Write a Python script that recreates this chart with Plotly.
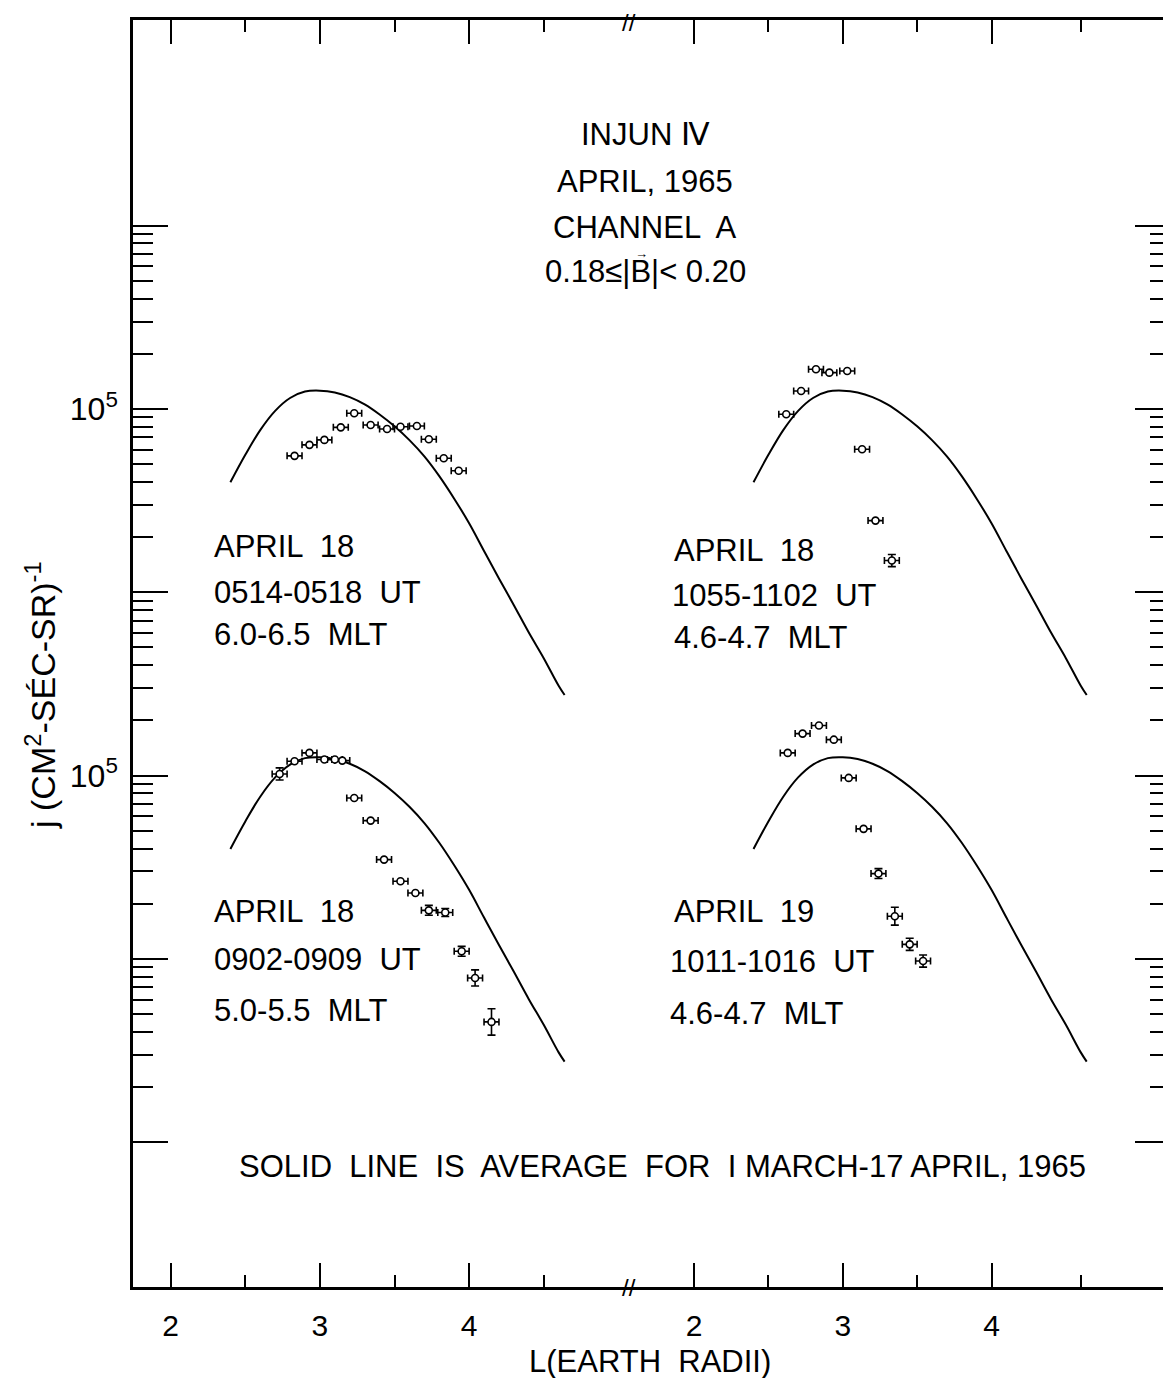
import plotly.graph_objects as go

# average curve, 1 March - 17 April 1965 (same curve drawn in every panel)
avg_L = [2.40, 2.50, 2.60, 2.70, 2.80, 2.90, 3.00, 3.10, 3.20, 3.30, 3.40, 3.50,
         3.60, 3.70, 3.80, 3.90, 4.00, 4.10, 4.20, 4.30, 4.40, 4.50, 4.60, 4.64]
avg_j = [39800, 56200, 76700, 97700, 114800, 124500, 125900, 123000, 116100, 105900, 93300, 80400,
         67600, 55100, 43000, 32400, 23800, 16800, 11900, 8500, 6030, 4370, 3090, 2750]

# April 18, 0514-0518 UT, 6.0-6.5 MLT
tl_L = [2.83, 2.93, 3.03, 3.14, 3.23, 3.34, 3.45, 3.54, 3.65, 3.73, 3.83, 3.93]
tl_j = [55500, 63700, 67800, 79400, 94800, 81800, 77800, 80000, 80700, 68400, 53800, 46000]
tl_dlog = [None] * 12

# April 18, 1055-1102 UT, 4.6-4.7 MLT
tr_L = [2.62, 2.72, 2.82, 2.91, 3.03, 3.13, 3.22, 3.33]
tr_j = [93600, 125400, 164800, 157800, 161100, 60300, 24600, 14900]
tr_dlog = [None, None, None, None, None, None, None, 0.033]

# April 18, 0902-0909 UT, 5.0-5.5 MLT
bl_L = [2.73, 2.83, 2.93, 3.03, 3.10, 3.15, 3.23, 3.34, 3.43, 3.54, 3.64, 3.73, 3.84, 3.95, 4.04, 4.15]
bl_j = [102100, 119700, 133000, 122300, 122300, 120700, 75500, 56800, 34800, 26500, 22900, 18400,
        17900, 11000, 7870, 4530]
bl_dlog = [0.033, None, None, None, None, None, None, None, None, None, None, 0.027,
           0.022, 0.027, 0.044, 0.072]

# April 19, 1011-1016 UT, 4.6-4.7 MLT
br_L = [2.63, 2.73, 2.84, 2.94, 3.04, 3.14, 3.24, 3.35, 3.45, 3.54]
br_j = [133000, 169400, 187500, 157000, 97100, 51200, 29200, 17100, 12000, 9730]
br_dlog = [None, None, None, None, None, None, 0.027, 0.049, 0.033, 0.033]

L_ERR = 0.05  # half width of the L bins

x_ticks = [2, 3, 4]
x_tick_text = ["2", "3", "4"]

# page is drawn with the browser's 8px body margin, so the figure is shifted by OFF
# and kept small enough that the page needs no scrollbar
OFF = 8
PAGE_W, PAGE_H = 1171, 1386
X0, Y0, X1, Y1 = 133, 20, 1170, 1287  # frame in page pixels
FIG_W, FIG_H = PAGE_W - OFF, PAGE_H - 2 * OFF
SPLIT = 0.4764
FONT = "Liberation Sans, Arial, sans-serif"


def px(x, y):
    return (x - X0) / (X1 - X0), 1 - (y - Y0) / (Y1 - Y0)


def yerr(j, dlog):
    hi = [None if d is None else v * (10 ** d - 1) for v, d in zip(j, dlog)]
    lo = [None if d is None else v * (1 - 10 ** -d) for v, d in zip(j, dlog)]
    return dict(type="data", symmetric=False, array=hi, arrayminus=lo,
                color="black", thickness=1.6, width=4)


fig = go.Figure()

panels = [
    (tl_L, tl_j, tl_dlog, "x", "y"),
    (tr_L, tr_j, tr_dlog, "x2", "y"),
    (bl_L, bl_j, bl_dlog, "x", "y2"),
    (br_L, br_j, br_dlog, "x2", "y2"),
]
for L, j, dlog, xa, ya in panels:
    fig.add_trace(go.Scatter(
        x=avg_L, y=avg_j, mode="lines", xaxis=xa, yaxis=ya,
        line=dict(color="black", width=2, shape="spline", smoothing=1.0), showlegend=False,
    ))
    fig.add_trace(go.Scatter(
        x=L, y=j, mode="markers", xaxis=xa, yaxis=ya,
        marker=dict(symbol="circle", size=7, color="white", line=dict(color="black", width=1.6)),
        error_x=dict(type="constant", value=L_ERR, color="black", thickness=1.6, width=3.5),
        error_y=yerr(j, dlog),
        showlegend=False,
    ))

# the right-hand tick axis only gets drawn when a trace uses it
fig.add_trace(go.Scatter(x=tr_L, y=tr_j, mode="markers", xaxis="x2", yaxis="y3",
                         marker=dict(opacity=0), hoverinfo="skip", showlegend=False))

y_major = [10 ** e for e in range(1, 7)]
y_minor = [k * 10 ** e for e in range(1, 6) for k in range(2, 10)]
y_major_text = ["10<sup>5</sup>" if v == 10 ** 5 else "" for v in y_major]

xbase = dict(
    showline=True, linecolor="black", linewidth=2.5, mirror="ticks",
    ticks="inside", ticklen=24, tickwidth=2, tickcolor="black",
    tickvals=x_ticks, ticktext=x_tick_text, showgrid=False, zeroline=False,
    tickfont=dict(size=30, color="black", family=FONT), ticklabelstandoff=10,
)
ybase = dict(
    type="log", showline=True, linecolor="black", linewidth=2.5,
    ticks="inside", ticklen=35, tickwidth=2, tickcolor="black",
    tickvals=y_major, ticktext=y_major_text, showgrid=False, zeroline=False,
    minor=dict(tickvals=y_minor, ticks="inside", ticklen=20, tickwidth=2, tickcolor="black"),
    tickfont=dict(size=32, color="black", family=FONT), ticklabelstandoff=6,
)

fig.update_layout(
    width=FIG_W, height=FIG_H,
    margin=dict(l=X0 - OFF, r=FIG_W + OFF - X1, t=Y0 - OFF, b=FIG_H + OFF - Y1, autoexpand=False),
    paper_bgcolor="white", plot_bgcolor="white",
    font=dict(family=FONT, color="black", size=32),
    xaxis=dict(xbase, domain=[0, SPLIT], range=[1.7473, 5.0583], anchor="y",
               minor=dict(tickvals=[2.5, 3.5, 4.5], ticks="inside", ticklen=12, tickwidth=2, tickcolor="black")),
    xaxis2=dict(xbase, domain=[SPLIT, 1], range=[1.5496, 5.2000], anchor="y",
                minor=dict(tickvals=[2.5, 3.5, 4.6], ticks="inside", ticklen=12, tickwidth=2, tickcolor="black")),
    yaxis=dict(ybase, domain=[0, 1], range=[0.210, 7.122], anchor="x", side="left"),
    yaxis3=dict(ybase, range=[0.210, 7.122], anchor="x2", side="right", overlaying="y",
                showticklabels=False),
    yaxis2=dict(ybase, range=[2.210, 9.122], anchor="x", side="left", overlaying="y",
                tickvals=[10 ** 5], ticktext=["10<sup>5</sup>"], minor=dict(ticks="")),
)

notes = [
    (645, 135, "INJUN Ⅳ", "center"),
    (645, 181, "APRIL, 1965", "center"),
    (645, 227, "CHANNEL  A", "center"),
    (645, 272, "0.18≤|B|< 0.20", "center"),
    (212, 546, "APRIL  18", "left"),
    (212, 592, "0514-0518  UT", "left"),
    (212, 635, "6.0-6.5  MLT", "left"),
    (672, 550, "APRIL  18", "left"),
    (670, 595, "1055-1102  UT", "left"),
    (672, 637, "4.6-4.7  MLT", "left"),
    (212, 911, "APRIL  18", "left"),
    (212, 960, "0902-0909  UT", "left"),
    (212, 1010, "5.0-5.5  MLT", "left"),
    (672, 911, "APRIL  19", "left"),
    (668, 961, "1011-1016  UT", "left"),
    (668, 1013, "4.6-4.7  MLT", "left"),
    (662, 1166, "SOLID  LINE  IS  AVERAGE  FOR  I MARCH-17 APRIL, 1965", "center"),
    (650, 1362, "L(EARTH  RADII)", "center"),
]
for x, y, txt, anc in notes:
    xp, yp = px(x, y)
    fig.add_annotation(x=xp, y=yp, xref="paper", yref="paper", text=txt, showarrow=False,
                       xanchor=anc, yanchor="middle", font=dict(size=31, color="black", family=FONT))

# vector arrow over the B
xp, yp = px(641, 253)
fig.add_annotation(x=xp, y=yp, xref="paper", yref="paper", text="→", showarrow=False,
                   xanchor="center", yanchor="middle", font=dict(size=13, color="black", family=FONT))

# y axis title
xp, yp = px(40, 695)
fig.add_annotation(x=xp, y=yp, xref="paper", yref="paper", textangle=-90, showarrow=False,
                   text="j (CM<sup>2</sup>-SÉC-SR)<sup>-1</sup>", xanchor="center", yanchor="middle",
                   font=dict(size=34, color="black", family=FONT))

# axis break marks
for y in (Y0 + 3, Y1):
    xp, yp = px(629, y)
    fig.add_annotation(x=xp, y=yp, xref="paper", yref="paper", text="//", showarrow=False,
                       xanchor="center", yanchor="middle", font=dict(size=24, color="black", family=FONT))

fig.write_html("out.html")
